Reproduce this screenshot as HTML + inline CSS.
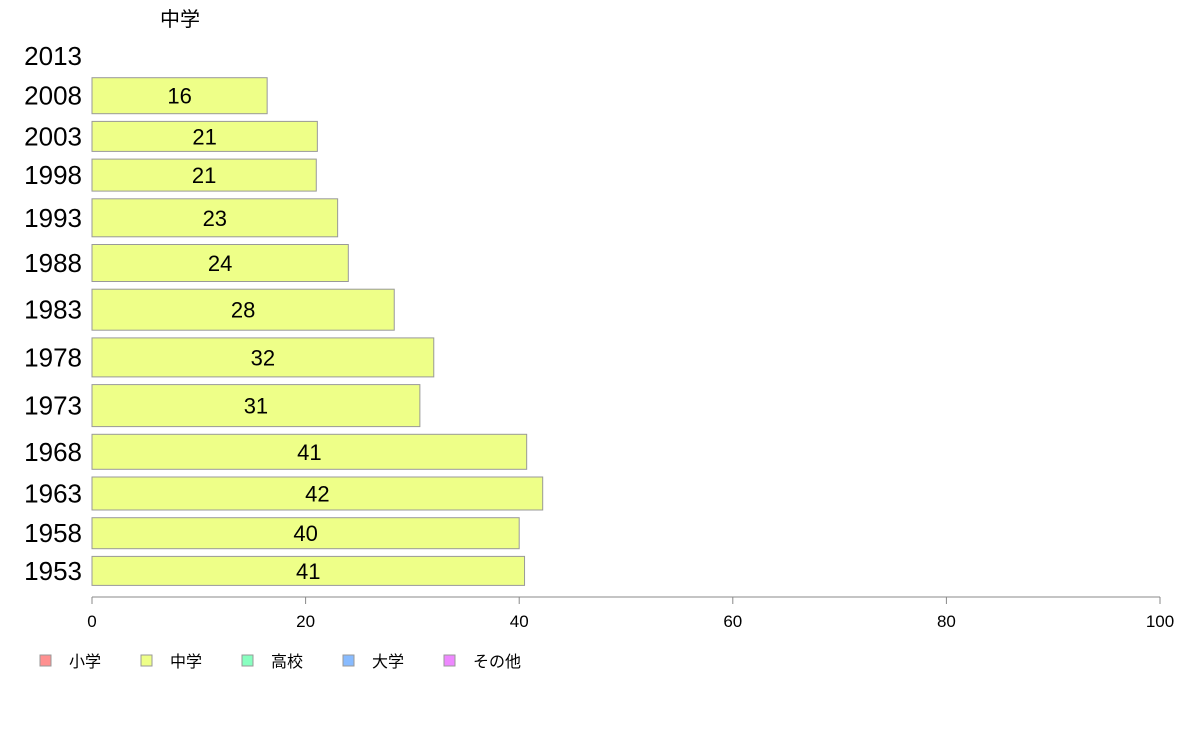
<!DOCTYPE html>
<html><head><meta charset="utf-8"><style>
body{margin:0;background:#fff;width:1188px;height:736px;overflow:hidden;font-family:"Liberation Sans","Noto Sans CJK JP",sans-serif}
</style></head><body>
<svg id="chart" width="1188" height="736" xmlns="http://www.w3.org/2000/svg" font-family="Liberation Sans, Noto Sans CJK JP, sans-serif"></svg>
<script>
const years=["2013","2008","2003","1998","1993","1988","1983","1978","1973","1968","1963","1958","1953"];
const values=[0,16.4,21.1,21,23,24,28.3,32,30.7,40.7,42.2,40,40.5];
const labels=["","16","21","21","23","24","28","32","31","41","42","40","41"];
const weights=[28,36,30,32,38,37,41,39,42,35,33,31,29];
const ticks=[0,20,40,60,80,100];
const legendNames=["小学","中学","高校","大学","その他"];
const legendColors=["#ff9090","#eeff88","#88ffc0","#88bbff","#ee88ff"];
const svg=document.getElementById('chart');
const NS="http://www.w3.org/2000/svg";
const x0=92,x1=1160;
const xs=v=>x0+(x1-x0)*v/100;
function mk(t,a,txt){const e=document.createElementNS(NS,t);for(const k in a)e.setAttribute(k,a[k]);if(txt!==undefined)e.textContent=txt;svg.appendChild(e);return e;}
const title=mk('text',{x:180,y:26,'font-size':20,'text-anchor':'middle',fill:'#000'},'中学');


let y=42;const gap=7.7;
years.forEach((yr,i)=>{
  const h=weights[i];
  const cy=y+h/2;
  const yl=mk('text',{x:82,y:cy+9,'font-size':26,'text-anchor':'end',fill:'#000'},yr);
  
  
  if(values[i]>0){
    const r=mk('rect',{x:x0,y:y,width:xs(values[i])-x0,height:h,fill:'#eeff88',stroke:'#999','stroke-width':1});
    
    
    const t=mk('text',{x:(x0+xs(values[i]))/2,y:cy+8,'font-size':22,'text-anchor':'middle',fill:'#000'},labels[i]);
    
    
  }
  y+=h+gap;
});
const ax=mk('line',{x1:x0,x2:x1,y1:597,y2:597,stroke:'#888','stroke-width':1});


ticks.forEach(t=>{
  const l=mk('line',{x1:xs(t),x2:xs(t),y1:597,y2:604,stroke:'#888'});
  
  
  const tx=mk('text',{x:xs(t),y:627,'font-size':17,'text-anchor':'middle',fill:'#000'},String(t));
  
  
});
legendNames.forEach((n,i)=>{
  const lx=40+i*101;
  const s=mk('rect',{x:lx,y:655,width:11,height:11,fill:legendColors[i],stroke:'#999'});
  
  
  const t=mk('text',{x:lx+29,y:667,'font-size':16,fill:'#000'},n);
  
  
});
</script>
</body></html>
